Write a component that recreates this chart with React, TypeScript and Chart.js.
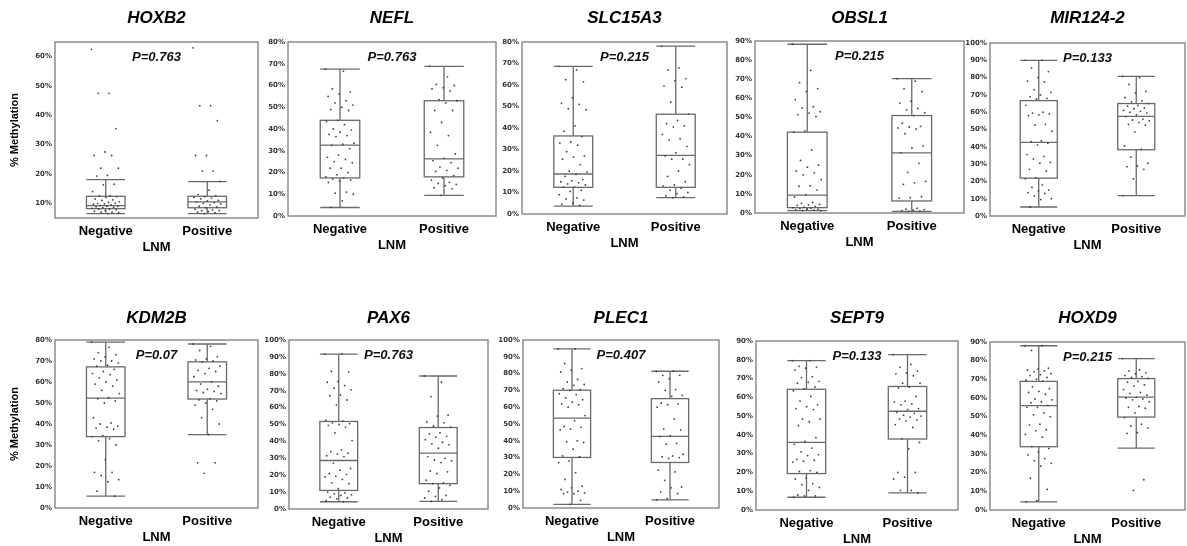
import React, { useEffect, useRef } from 'react';
import { Chart, registerables } from 'chart.js';

Chart.register(...registerables);

// ---------- data ----------
const GENES = ['HOXB2', 'NEFL', 'SLC15A3', 'OBSL1', 'MIR124-2', 'KDM2B', 'PAX6', 'PLEC1', 'SEPT9', 'HOXD9'];
const P_LABELS = ['P=0.763', 'P=0.763', 'P=0.215', 'P=0.215', 'P=0.133', 'P=0.07', 'P=0.763', 'P=0.407', 'P=0.133', 'P=0.215'];
const GROUPS = ['Negative', 'Positive'];
const X_TITLE = 'LNM';
const Y_TITLE = '% Methylation';

const Y_MIN = [5, 0, 0, 0, 0, 0, 0, 0, 0, 0];
const Y_MAX = [65, 80, 80, 90, 100, 80, 100, 100, 90, 90];
const TICKS_10_60 = [10, 20, 30, 40, 50, 60];
const TICKS_0_80 = [0, 10, 20, 30, 40, 50, 60, 70, 80];
const TICKS_0_90 = [0, 10, 20, 30, 40, 50, 60, 70, 80, 90];
const TICKS_0_100 = [0, 10, 20, 30, 40, 50, 60, 70, 80, 90, 100];
const Y_TICKS = [TICKS_10_60, TICKS_0_80, TICKS_0_80, TICKS_0_90, TICKS_0_100, TICKS_0_80, TICKS_0_100, TICKS_0_100, TICKS_0_90, TICKS_0_90];

// box stats: [lower whisker, Q1, median, Q3, upper whisker] (% methylation)
const HOXB2_NEG_BOX = [6.5, 8.2, 9.2, 12.4, 18.1];
const HOXB2_POS_BOX = [6.5, 8.5, 10.5, 12.4, 17.4];
const NEFL_NEG_BOX = [3.9, 17.5, 32.6, 44, 67.5];
const NEFL_POS_BOX = [9.5, 18, 26.3, 53, 68.8];
const SLC15A3_NEG_BOX = [3.7, 12.4, 18.6, 36.3, 68.7];
const SLC15A3_POS_BOX = [7.6, 12.4, 27.3, 46.4, 78.1];
const OBSL1_NEG_BOX = [1.2, 2.8, 9.4, 42.3, 88.3];
const OBSL1_POS_BOX = [0.9, 6.3, 31.5, 51, 70.3];
const MIR124_2_NEG_BOX = [5.2, 21.9, 42.6, 66.7, 90];
const MIR124_2_POS_BOX = [11.8, 38.3, 57.6, 65, 80.7];
const KDM2B_NEG_BOX = [5.7, 34, 52.3, 67.2, 79];
const KDM2B_POS_BOX = [34.9, 51.9, 60.1, 69.6, 78.1];
const PAX6_NEG_BOX = [4.3, 11, 28.7, 51.8, 91.7];
const PAX6_POS_BOX = [4.5, 15, 33.1, 48.2, 78.7];
const PLEC1_NEG_BOX = [2.2, 30.1, 53.5, 70.1, 94.7];
const PLEC1_POS_BOX = [4.8, 27.1, 42.6, 65.1, 81.4];
const SEPT9_NEG_BOX = [6.8, 19.4, 36, 64.3, 79.5];
const SEPT9_POS_BOX = [9.1, 37.8, 52.6, 65.8, 82.7];
const HOXD9_NEG_BOX = [4.3, 33.9, 55.9, 68.9, 88];
const HOXD9_POS_BOX = [33.2, 49.8, 60.5, 70.4, 81.1];

// individual samples (% methylation)
const HOXB2_NEG_PTS = [62.5, 47.5, 47.5, 35.5, 27.5, 26.3, 26.3, 22, 22, 19.5, 19.3, 16.5, 16.3, 14, 12.5, 12.5, 12.3, 12, 11.5, 11.2, 11, 10.5, 10.3, 10, 10, 9.8, 9.7, 9.5, 9.3, 9, 9, 8.8, 8.7, 8.5, 8.3, 8, 8, 7.8, 7.5, 7.3, 7, 7, 6.8, 6.5];
const HOXB2_POS_PTS = [63, 43.3, 43.3, 38.2, 26.3, 26.3, 21, 21, 17.5, 14.5, 13, 12.5, 12.3, 12, 11.8, 11.5, 11, 10.8, 10.5, 10.3, 10, 9.8, 9.5, 9, 8.8, 8.5, 8, 7.8, 7.5, 7.5, 7.2, 7, 6.8, 6.5];
const NEFL_NEG_PTS = [67.5, 66.5, 58.5, 57, 56, 55, 53, 52, 51, 50, 49, 48.5, 44, 43.5, 42, 40, 39.5, 38.5, 37.5, 37, 36.5, 33.5, 33, 32.5, 31, 28, 27, 26, 25, 24.5, 22, 22, 20, 19, 18, 17.5, 17, 16.5, 16, 15.5, 11, 10.5, 10, 7, 4];
const NEFL_POS_PTS = [68.8, 64, 60.5, 60, 59, 58.5, 57.5, 53.5, 53, 52, 48.5, 48.5, 43, 38.5, 37, 32.5, 28.5, 26.5, 25.5, 24.5, 22.5, 22, 21, 20.5, 18.5, 17.5, 16.5, 15.5, 15, 14.5, 14, 13, 12.5, 9.5];
const SLC15A3_NEG_PTS = [68.7, 67, 62.5, 61.5, 54, 51.5, 51, 49, 48.5, 41, 38.5, 36, 33.5, 33, 32, 29, 27, 26.5, 25.5, 23, 20, 19.5, 18.5, 17.5, 16, 15.5, 15, 14.5, 14, 13.5, 12.5, 12.5, 11, 10.5, 9, 7.5, 7, 6.5, 5, 4.5, 4];
const SLC15A3_POS_PTS = [78, 68, 67, 63, 62, 59.5, 59, 52, 46.5, 43.5, 42, 41, 40.5, 37, 35, 34.5, 31.5, 28.5, 27, 25.5, 25.5, 23, 20, 17.5, 15, 13.5, 13, 12, 11, 10, 9.5, 8.5, 8, 7.6];
const OBSL1_NEG_PTS = [88.3, 74.6, 68.2, 65.1, 63.6, 59.3, 55.6, 55, 53, 52.3, 51.5, 50.5, 43, 42.3, 33, 27.5, 25, 24, 22, 21, 20, 17.5, 14.3, 14, 12, 9.5, 8.3, 5.5, 5, 4.5, 4.3, 4, 3.5, 3, 2.8, 2.5, 2.3, 2, 2, 1.8, 1.5, 1.3, 1.2];
const OBSL1_POS_PTS = [70.3, 69, 65, 63.5, 58.5, 57.5, 54.7, 54, 52.5, 51, 47, 45.3, 45, 44.5, 44, 41.5, 35, 34, 31.5, 26, 21.3, 16.5, 15.8, 15, 8.5, 8, 7.8, 2.5, 2, 1.8, 1.5, 1.2, 1, 0.9];
const MIR124_2_NEG_PTS = [90, 90, 85.5, 83.5, 80, 78, 77.5, 73, 71.5, 70, 69, 68, 67.5, 64, 60, 59.5, 59, 58.5, 58, 53, 52.5, 49, 43.5, 43, 42, 41, 35.5, 34.5, 33, 31, 30.5, 27, 26, 22, 21.5, 18, 16.5, 15, 14.5, 13.5, 13, 11.5, 10, 9.5, 5.2];
const MIR124_2_POS_PTS = [80.7, 80, 76, 72, 71, 68.5, 66.5, 66, 65, 64, 63.5, 62.5, 62, 61, 60.5, 60, 59.5, 58.5, 57.5, 56, 55.5, 55, 54, 53, 52.5, 48.5, 40.5, 38.5, 34, 30.5, 29, 28.5, 27, 21.5, 11.8];
const KDM2B_NEG_PTS = [79, 76.5, 74, 73, 72, 71, 70, 70, 69, 68, 67.5, 66, 65, 64, 63.5, 62, 61, 60, 59, 58, 56, 54.5, 52.5, 52, 51, 50, 43, 40.5, 40, 39, 38.5, 38, 37.5, 34.5, 34, 33, 32, 30, 23, 17, 17, 15.5, 13.5, 12.5, 8, 5.7];
const KDM2B_POS_PTS = [78.1, 77, 75, 72, 71, 70.5, 70, 69.5, 67.5, 66.5, 65.5, 65, 64, 62.5, 60, 59, 58, 56.5, 56, 55.5, 55, 54.5, 52, 51.5, 51, 50, 49, 47, 43, 40, 35, 21.5, 21.5, 16.5];
const PAX6_NEG_PTS = [91.7, 91.7, 81.5, 81, 75.5, 75, 73, 71.5, 70.5, 67.5, 67, 64.5, 61.5, 52.5, 52, 51, 50.5, 50, 49.5, 48.5, 45, 40.5, 35, 34, 33, 32.5, 31.5, 31, 27, 24, 23, 21, 20.5, 19.5, 19, 17.5, 15.5, 15, 12, 10, 9.5, 9, 8.5, 8, 7, 6.5, 6, 5, 4.3];
const PAX6_POS_PTS = [78.7, 75, 66.5, 55.5, 55, 51.5, 51, 49, 48.5, 45, 44.5, 43, 42.5, 41, 39.5, 38.5, 38, 36, 31, 30, 29, 28.5, 27.5, 22.5, 22, 21, 17, 15.5, 15, 14, 12.5, 10.5, 8, 7.5, 6.5, 5.5, 4.5];
const PLEC1_NEG_PTS = [94.7, 94.7, 86, 83, 82, 81, 76.5, 75, 73.5, 73, 71, 70.5, 70, 68, 67.5, 65.5, 64.5, 63, 62, 61.5, 60, 55, 52, 48.5, 48, 47, 46.5, 40, 39.5, 39, 35, 31, 30.5, 28, 27, 21, 17, 13, 12, 11, 10, 9.5, 9, 8.5, 8.5, 4.5, 2.2];
const PLEC1_POS_PTS = [81.4, 81.4, 79, 79, 77, 75, 70.5, 70, 67, 66.5, 62.5, 62, 61.5, 60, 53, 47, 46.5, 43, 42.5, 38.5, 38, 32, 31, 30.5, 30, 29.5, 22.5, 21.5, 16.5, 12.5, 12, 9.5, 8.5, 5.5, 4.8];
const SEPT9_NEG_PTS = [79.5, 79.5, 76.5, 76, 75.5, 74.5, 71, 70.5, 68.5, 68, 67.5, 65.5, 64.5, 63.5, 60.5, 58, 56, 55, 54, 53.5, 48.5, 48.5, 47, 45, 38.5, 36.5, 35, 33, 31, 29.5, 29, 27, 26.5, 26, 25.5, 21, 20.5, 20, 17, 16.5, 14, 13.5, 12, 10.5, 8, 7.5, 7.5, 6.8];
const SEPT9_POS_PTS = [82.7, 77.5, 76, 74, 73, 72.5, 71.5, 67.5, 67.5, 65.5, 65, 60.5, 58, 57.5, 56.5, 56, 54, 53.5, 52, 51.5, 50.5, 50, 49.5, 48.5, 48, 47.5, 45.5, 44, 38, 36, 32.5, 20, 20, 17.5, 16.5, 10.5, 10.5, 9.1];
const HOXD9_NEG_PTS = [88, 88, 85.5, 76, 75.5, 75, 74.5, 74, 73, 72.5, 72, 71, 70, 69.5, 69, 66, 65, 63.5, 63, 62, 59.5, 59, 58, 57.5, 56, 55, 55, 52, 51, 50, 46, 45.5, 43, 42.5, 40.5, 39, 34, 33, 31, 29.5, 27.5, 26.5, 25, 23.5, 17, 11, 5, 4.3];
const HOXD9_POS_PTS = [81.1, 75, 74.5, 73.5, 73, 72, 71.5, 71, 70.5, 69, 68.5, 67, 66.5, 64.5, 63, 62.5, 61.5, 60.5, 60, 59.5, 59, 58, 55.5, 55, 54.5, 52, 49.5, 46, 45, 44, 41.5, 41, 16.2, 10.5];

const BOXES = [
  [HOXB2_NEG_BOX, HOXB2_POS_BOX], [NEFL_NEG_BOX, NEFL_POS_BOX], [SLC15A3_NEG_BOX, SLC15A3_POS_BOX],
  [OBSL1_NEG_BOX, OBSL1_POS_BOX], [MIR124_2_NEG_BOX, MIR124_2_POS_BOX], [KDM2B_NEG_BOX, KDM2B_POS_BOX],
  [PAX6_NEG_BOX, PAX6_POS_BOX], [PLEC1_NEG_BOX, PLEC1_POS_BOX], [SEPT9_NEG_BOX, SEPT9_POS_BOX],
  [HOXD9_NEG_BOX, HOXD9_POS_BOX],
];
const POINTS = [
  [HOXB2_NEG_PTS, HOXB2_POS_PTS], [NEFL_NEG_PTS, NEFL_POS_PTS], [SLC15A3_NEG_PTS, SLC15A3_POS_PTS],
  [OBSL1_NEG_PTS, OBSL1_POS_PTS], [MIR124_2_NEG_PTS, MIR124_2_POS_PTS], [KDM2B_NEG_PTS, KDM2B_POS_PTS],
  [PAX6_NEG_PTS, PAX6_POS_PTS], [PLEC1_NEG_PTS, PLEC1_POS_PTS], [SEPT9_NEG_PTS, SEPT9_POS_PTS],
  [HOXD9_NEG_PTS, HOXD9_POS_PTS],
];

// ---------- layout (pixels) ----------
const PLOT_L = [55, 288, 522, 755, 990, 55, 289, 523, 756, 990];
const PLOT_R = [258, 496, 727, 964, 1185, 258, 488, 719, 958, 1185];
const PLOT_T = [42, 42, 42, 41, 43, 340, 340, 340, 341, 342];
const PLOT_B = [218, 216, 214, 213, 216, 508, 509, 508, 510, 510];
const ROW_TOP = [0, 273];
const TITLE_CY = [18, 318];

const FONT = "'Liberation Sans', Arial, sans-serif";
const BOX_HALF = 0.19;
const JITTER = 0.14;
const jitter = (i: number) => (((i * 0.61803398875) % 1) * 2 - 1) * JITTER;

const boxPlugin = {
  id: 'boxplot',
  beforeDatasetsDraw(chart: any, _a: any, opts: any) {
    const { ctx } = chart;
    const x = chart.scales.x;
    const y = chart.scales.y;
    ctx.save();
    ctx.strokeStyle = '#6a6a6a';
    ctx.lineWidth = 1.3;
    (opts.boxes as number[][]).forEach((b, gi) => {
      const cx = x.getPixelForValue(gi + 1);
      const hw = x.getPixelForValue(gi + 1 + BOX_HALF) - cx;
      const [lo, q1, med, q3, hi] = b.map((v) => y.getPixelForValue(v));
      ctx.beginPath();
      ctx.moveTo(cx, hi); ctx.lineTo(cx, q3);
      ctx.moveTo(cx, q1); ctx.lineTo(cx, lo);
      ctx.moveTo(cx - hw, hi); ctx.lineTo(cx + hw, hi);
      ctx.moveTo(cx - hw, lo); ctx.lineTo(cx + hw, lo);
      ctx.stroke();
      ctx.fillStyle = '#ffffff';
      ctx.fillRect(cx - hw, q3, 2 * hw, q1 - q3);
      ctx.strokeRect(cx - hw, q3, 2 * hw, q1 - q3);
      ctx.beginPath();
      ctx.moveTo(cx - hw, med); ctx.lineTo(cx + hw, med);
      ctx.stroke();
    });
    ctx.restore();
  },
  afterDraw(chart: any, _a: any, opts: any) {
    const { ctx, chartArea: a } = chart;
    ctx.save();
    ctx.strokeStyle = '#8c8c8c';
    ctx.lineWidth = 1.5;
    ctx.strokeRect(a.left, a.top, a.right - a.left, a.bottom - a.top);
    ctx.fillStyle = '#111';
    ctx.font = `italic bold 13px ${FONT}`;
    ctx.textAlign = 'center';
    ctx.textBaseline = 'middle';
    ctx.fillText(opts.pLabel, (a.left + a.right) / 2, a.top + 15);
    ctx.restore();
  },
};

function Panel({ idx }: { idx: number }) {
  const ref = useRef<HTMLCanvasElement>(null);
  const row = idx < 5 ? 0 : 1;
  const col = idx % 5;
  const yw = col === 0 ? 55 : 34;
  const xh = 37;
  const left = PLOT_L[idx] - yw;
  const top = ROW_TOP[row];
  const width = PLOT_R[idx] - left + 1;
  const height = PLOT_B[idx] - top + xh;
  const titleLH = 17 * 1.2;
  const padTop = TITLE_CY[row] - top - titleLH / 2;
  const padBottom = PLOT_T[idx] - top - padTop - titleLH;

  useEffect(() => {
    const datasets = POINTS[idx].map((pts, gi) => ({
      type: 'scatter' as const,
      data: pts.map((v, i) => ({ x: gi + 1 + jitter(i), y: v })),
      pointRadius: 0.9,
      pointHoverRadius: 0.9,
      pointBorderWidth: 0,
      backgroundColor: '#404040',
      borderColor: '#404040',
    }));
    const chart = new Chart(ref.current as HTMLCanvasElement, {
      type: 'scatter',
      data: { datasets },
      plugins: [boxPlugin],
      options: {
        responsive: false,
        animation: false,
        events: [],
        layout: { padding: { left: 0, right: 1, top: 0, bottom: 0 } },
        plugins: {
          legend: { display: false },
          tooltip: { enabled: false },
          title: {
            display: true,
            text: GENES[idx],
            fullSize: false,
            color: '#000',
            font: { family: FONT, size: 17, weight: 'bold', style: 'italic', lineHeight: 1.2 },
            padding: { top: padTop, bottom: padBottom },
          },
          boxplot: { boxes: BOXES[idx], pLabel: P_LABELS[idx] },
        } as any,
        scales: {
          x: {
            type: 'linear',
            min: 0.5,
            max: 2.5,
            grid: { display: false, drawTicks: false },
            border: { display: false },
            afterBuildTicks: (s: any) => { s.ticks = GROUPS.map((_g, i) => ({ value: i + 1 })); },
            afterFit: (s: any) => { s.height = xh; },
            ticks: {
              padding: 7,
              color: '#000',
              font: { family: FONT, size: 13, weight: 'bold', lineHeight: 1 },
              callback: (_v: any, i: number) => GROUPS[i],
            },
            title: {
              display: true,
              text: X_TITLE,
              color: '#000',
              font: { family: FONT, size: 13, weight: 'bold', lineHeight: 1 },
              padding: { top: 0, bottom: 1 },
            },
          },
          y: {
            type: 'linear',
            min: Y_MIN[idx],
            max: Y_MAX[idx],
            grid: { display: false, drawTicks: false },
            border: { display: false },
            afterBuildTicks: (s: any) => { s.ticks = Y_TICKS[idx].map((v) => ({ value: v })); },
            afterFit: (s: any) => { s.width = yw; },
            ticks: {
              padding: 3,
              color: '#333',
              font: { family: "'DejaVu Sans', Verdana, sans-serif", size: 7, weight: 'bold' },
              callback: (v: any) => `${v}%`,
            },
            title: {
              display: col === 0,
              text: Y_TITLE,
              color: '#000',
              font: { family: FONT, size: 11, weight: 'bold', lineHeight: 1.2 },
              padding: { top: 8.4, bottom: 0 },
            },
          },
        },
      } as any,
    });
    return () => chart.destroy();
  }, [idx]);

  return (
    <canvas
      ref={ref}
      width={width}
      height={height}
      style={{ position: 'absolute', left, top, width, height }}
    />
  );
}

export default function App() {
  return (
    <div style={{ position: 'absolute', left: 0, top: 0, width: 1187, height: 546, overflow: 'hidden', background: '#fff' }}>
      {GENES.map((_g, i) => (
        <Panel key={i} idx={i} />
      ))}
    </div>
  );
}
